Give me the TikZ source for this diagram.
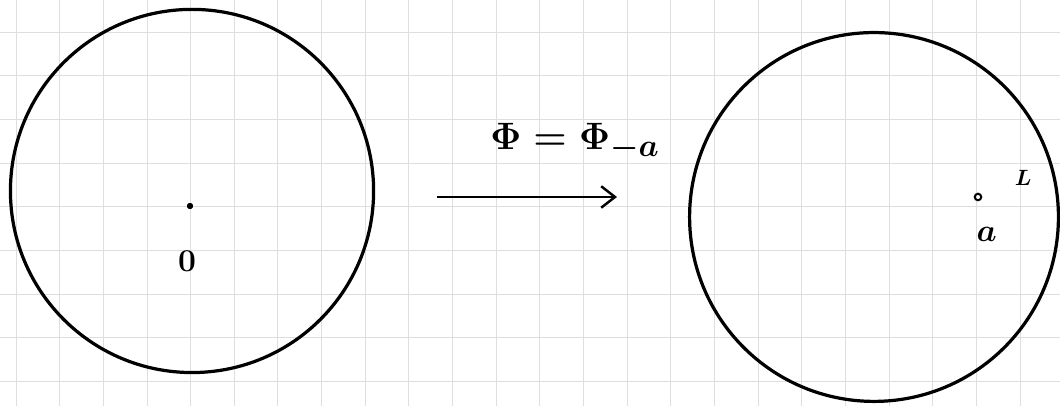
\documentclass[tikz,border=0pt]{standalone}
\usetikzlibrary{arrows.meta, positioning}
\definecolor{gridGray}{HTML}{DEDEDE}

\begin{document}
\begin{tikzpicture}[
    node distance=1cm,
    disk/.style={circle, draw=black, line width=2.1pt, inner sep=0pt},
    centremark/.style={rectangle, rounded corners=1pt, fill=black,
                minimum size=0.13cm, inner sep=0pt},
    pointmark/.style={circle, draw=black, line width=1.3pt,
                minimum size=0.15cm, inner sep=0pt},
    lbl/.style={font=\huge\boldmath, inner sep=0pt},
    mapsto/.style={-{Straight Barb[length=9pt, width=14pt, line width=1.6pt]},
                line width=1.6pt},
  ]
    \useasboundingbox (0,0) rectangle (24.284,9.301);
    \clip (0,0) rectangle (24.284,9.301);
    \draw[gridGray, line width=0.6pt, shift={(0.367,0.561)}] (-1,-1) grid (25,10);

    % the two disks
    \node[disk, minimum size=8.32cm] (diskL) at (4.399,4.926) {};
    \node[disk, minimum size=8.45cm] (diskR) at (20.023,4.330) {};

    \node[centremark] (orig) at (4.353,4.582) {};
    \node[lbl, below=0.95cm of orig, xshift=-0.07cm] (origlbl) {$0$};

    \node[pointmark] (pa) at (22.405,4.788) {};
    \node[lbl, below=0.6cm of pa, xshift=0.2cm] (palbl) {$a$};
    \node[lbl, font=\Large\boldmath] (rlbl) at (23.44,5.22) {$L$};

    % the map
    \coordinate (arrstart) at (10.01,4.788);
    \coordinate (arrend) at (14.135,4.788);
    \draw[mapsto] (arrstart) -- (arrend);
    \node[lbl, font=\Huge\boldmath] (maplbl) at (13.17,6.05) {$\Phi = \Phi_{-a}$};
  \end{tikzpicture}
\end{document}
